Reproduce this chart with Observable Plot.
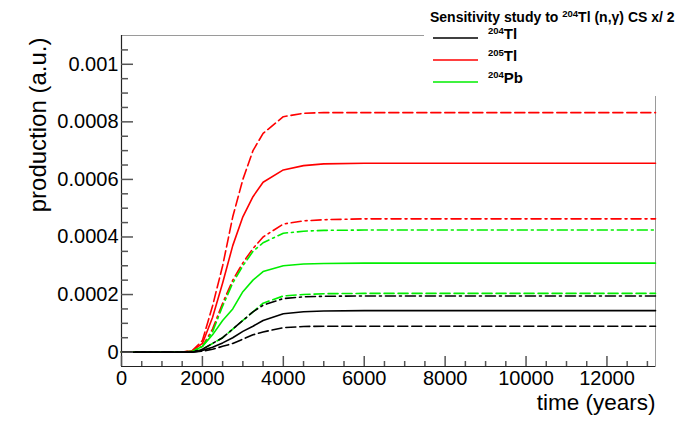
<!DOCTYPE html>
<html><head><meta charset="utf-8">
<script src="https://cdn.jsdelivr.net/npm/d3@7"></script>
<script src="https://cdn.jsdelivr.net/npm/@observablehq/plot@0.6"></script>
<style>
body{margin:0;background:#fff;font-family:"Liberation Sans",Arial,sans-serif;}
#wrap{position:relative;width:683px;height:422px;overflow:hidden;}
#legend{position:absolute;left:424px;top:0;width:259px;height:96px;background:#fff;}
#legend .title{position:absolute;left:6px;top:9px;font-weight:bold;font-size:14px;white-space:nowrap;color:#000;}
#legend .entry{position:absolute;left:9px;height:20px;white-space:nowrap;}
#legend .entry svg{position:absolute;left:0;top:0;}
#legend .entry span{position:absolute;left:55px;top:-3px;font-weight:bold;font-size:15px;color:#000;}
sup{font-size:9.5px;vertical-align:5px;line-height:0;}
</style></head><body>
<div id="wrap"><div id="chart"></div><div id="legend"></div></div>
<script>
// time grid (years)
const times = [0, 1500, 1750, 2000, 2250, 2500, 2750, 3000, 3250, 3500, 4000, 4500, 5000, 6000, 8000, 10000, 13200];
// 204Tl
const tl204Nominal = [0, 0, 0, 0.000006, 0.000017, 0.000032, 0.00005, 0.000072, 0.00009, 0.00011, 0.000133, 0.00014, 0.000143, 0.000144, 0.000144, 0.000144, 0.000144];
const tl204Times2  = [0, 0, 0, 0.000003, 0.00001, 0.00002, 0.00003, 0.000045, 0.00006, 0.00007, 0.000085, 0.000089, 0.00009, 0.00009, 0.00009, 0.00009, 0.00009];
const tl204Half    = [0, 0, 0.000001, 0.00001, 0.00003, 0.00005, 0.00008, 0.00011, 0.00014, 0.000163, 0.000186, 0.000192, 0.000194, 0.000195, 0.000195, 0.000195, 0.000195];
// 205Tl
const tl205Nominal = [0, 0, 0.000004, 0.00003, 0.00012, 0.00024, 0.00037, 0.00047, 0.00054, 0.00059, 0.000633, 0.000648, 0.000654, 0.000656, 0.000656, 0.000656, 0.000656];
const tl205Times2  = [0, 0, 0.000005, 0.00004, 0.00016, 0.0003, 0.00047, 0.0006, 0.0007, 0.00076, 0.000818, 0.00083, 0.000832, 0.000832, 0.000832, 0.000832, 0.000832];
const tl205Half    = [0, 0, 0.000003, 0.00002, 0.00008, 0.00017, 0.00025, 0.00031, 0.00036, 0.0004, 0.000445, 0.000456, 0.00046, 0.000463, 0.000463, 0.000463, 0.000463];
// 204Pb
const pb204Nominal = [0, 0, 0.000002, 0.00002, 0.00006, 0.00011, 0.00015, 0.00021, 0.00025, 0.00028, 0.0003, 0.000306, 0.000308, 0.000309, 0.000309, 0.000309, 0.000309];
const pb204Times2  = [0, 0, 0.000001, 0.00001, 0.00003, 0.00005, 0.00008, 0.00011, 0.00014, 0.00017, 0.000195, 0.0002, 0.000203, 0.000204, 0.000204, 0.000204, 0.000204];
const pb204Half    = [0, 0, 0.000003, 0.00002, 0.00007, 0.00016, 0.00024, 0.0003, 0.00035, 0.00038, 0.000413, 0.00042, 0.000423, 0.000424, 0.000424, 0.000424, 0.000424];

const xTicks = [0, 2000, 4000, 6000, 8000, 10000, 12000];
const xMinorTicks = [500, 1000, 1500, 2500, 3000, 3500, 4500, 5000, 5500, 6500, 7000, 7500, 8500, 9000, 9500, 10500, 11000, 11500, 12500, 13000];
const yTicks = [0, 0.0002, 0.0004, 0.0006, 0.0008, 0.001];
const yMinorTicks = [0.00005, 0.0001, 0.00015, 0.00025, 0.0003, 0.00035, 0.00045, 0.0005, 0.00055, 0.00065, 0.0007, 0.00075, 0.00085, 0.0009, 0.00095, 0.00105];
const xDomain = [0, 13200];
const yDomain = [-0.00005, 0.0011];

const legendTitle = 'Sensitivity study to <sup>204</sup>Tl (n,γ) CS x/ 2';
const legendItems = [
  {label: '<sup>204</sup>Tl', color: "#000000"},
  {label: '<sup>205</sup>Tl', color: "#ff0000"},
  {label: '<sup>204</sup>Pb', color: "#00ee00"}
];

const DASH = "10,4";
const DASHDOT = "10,4,2,4";
const series = [
  {v: tl205Times2,  color: "#ff0000", dash: DASH},
  {v: tl205Nominal, color: "#ff0000", dash: null},
  {v: tl205Half,    color: "#ff0000", dash: DASHDOT},
  {v: pb204Half,    color: "#00ee00", dash: DASHDOT},
  {v: pb204Nominal, color: "#00ee00", dash: null},
  {v: pb204Times2,  color: "#00ee00", dash: DASH},
  {v: tl204Half,    color: "#000000", dash: DASHDOT},
  {v: tl204Nominal, color: "#000000", dash: null},
  {v: tl204Times2,  color: "#000000", dash: DASH}
];

const lineMarks = series.map(s => Plot.line(times.map((t, i) => ({t, v: s.v[i]})), {
  x: "t", y: "v", stroke: s.color, strokeWidth: 1.6, strokeDasharray: s.dash, curve: "linear"
}));

// plot area size in pixels, used to express tick lengths in data units
const W = 683, H = 422, ML = 121, MR = 28, MT = 35, MB = 56;
const pxX = (xDomain[1] - xDomain[0]) / (W - ML - MR);
const pxY = (yDomain[1] - yDomain[0]) / (H - MT - MB);
const xTickMark = (ticks, len) => Plot.ruleX(ticks, {x: d => d, y1: yDomain[0], y2: yDomain[0] + len * pxY, stroke: "#555", strokeWidth: 1.5});
const yTickMark = (ticks, len) => Plot.ruleY(ticks, {y: d => d, x1: xDomain[0], x2: xDomain[0] + len * pxX, stroke: "#555", strokeWidth: 1.5});

const chart = Plot.plot({
  width: W, height: H,
  marginLeft: ML, marginRight: MR, marginTop: MT, marginBottom: MB,
  style: {fontFamily: "'Liberation Sans', Arial, sans-serif", fontSize: "20px", background: "#fff", color: "#000"},
  x: {domain: xDomain, label: null},
  y: {domain: yDomain, label: null},
  marks: [
    Plot.frame({stroke: "#9a9a9a"}),
    ...lineMarks,
    Plot.ruleX([xDomain[0]], {stroke: "#222", strokeWidth: 1.2}),
    Plot.ruleY([yDomain[0]], {stroke: "#222", strokeWidth: 1.2}),
    xTickMark(xTicks, 10),
    xTickMark(xMinorTicks, 5),
    yTickMark(yTicks, 12),
    yTickMark(yMinorTicks, 7),
    Plot.axisX({ticks: xTicks, tickSize: 0, tickPadding: 4, tickFormat: d => String(d), fontSize: 20}),
    Plot.axisY({ticks: yTicks, tickSize: 0, tickPadding: 3, tickFormat: d => String(d), fontSize: 20}),
    Plot.text(["production (a.u.)"], {frameAnchor: "top-left", dx: -93, dy: 2, rotate: -90, textAnchor: "end", fontSize: 24}),
    Plot.text(["time (years)"], {frameAnchor: "bottom-right", dy: 43, textAnchor: "end", fontSize: 22.5})
  ]
});
document.getElementById("chart").appendChild(chart);

const legend = document.getElementById("legend");
const t = document.createElement("div");
t.className = "title"; t.innerHTML = legendTitle; legend.appendChild(t);
legendItems.forEach((it, i) => {
  const e = document.createElement("div");
  e.className = "entry";
  e.style.top = (28 + i * 22) + "px";
  e.innerHTML = `<svg width="50" height="20"><line x1="0" x2="45" y1="10" y2="10" stroke="${it.color}" stroke-width="1.6"/></svg><span>${it.label}</span>`;
  legend.appendChild(e);
});
</script>
</body></html>
